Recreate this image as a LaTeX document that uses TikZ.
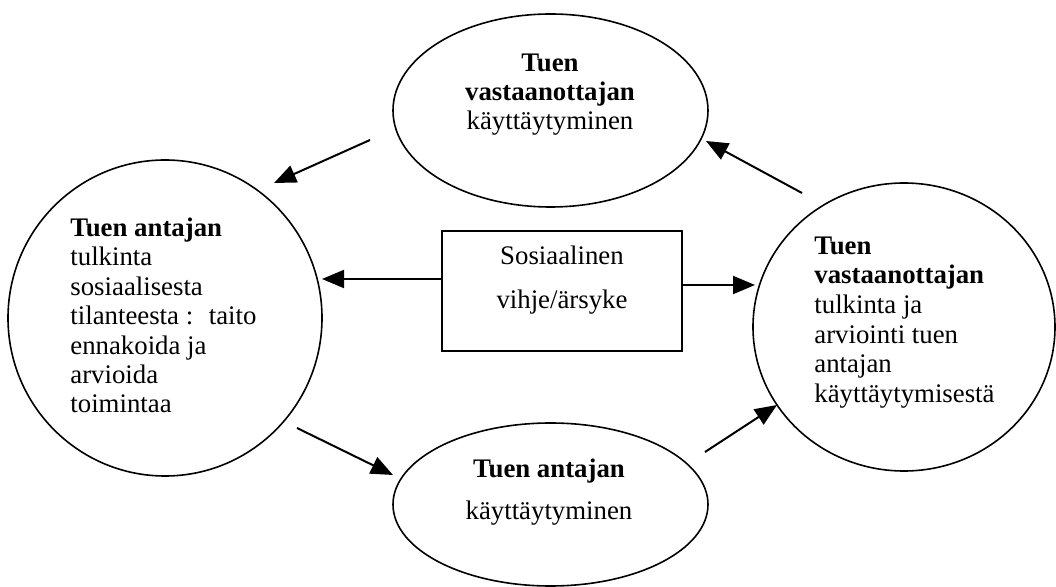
\documentclass[tikz,border=0pt]{standalone}
\usepackage{fontspec}
\setmainfont{Liberation Serif}
\usetikzlibrary{shapes.geometric,arrows.meta}
\begin{document}
\begin{tikzpicture}[x=0.5pt,y=-0.5pt,
  shapeline/.style={draw=black,line width=0.8pt,inner sep=0pt,outer sep=0pt},
  oval/.style={shapeline,ellipse},
  boxshape/.style={shapeline,rectangle},
  arr/.style={line width=1pt,-{Triangle[length=11pt,width=9pt]}},
  txt/.style={inner sep=0pt,font=\fontsize{13.4}{15}\selectfont},
  lt/.style={txt,anchor=base west},
  ct/.style={txt,anchor=base}]
\useasboundingbox (0,0) rectangle (1056,587);
% shapes
\node[oval,minimum width=157.5pt,minimum height=96.5pt] (top) at (550.5,110.5) {};
\node[oval,minimum width=157pt,minimum height=158pt] (left) at (165,318) {};
\node[oval,minimum width=151pt,minimum height=144pt] (right) at (904,327) {};
\node[oval,minimum width=157.5pt,minimum height=81.5pt] (bottom) at (550.5,504.5) {};
\node[boxshape,minimum width=120pt,minimum height=60pt] (box) at (562,291) {};
% top text
\node[ct] (t1) at (550,72) {\textbf{Tuen}};
\node[ct] (t2) at (550,100.5) {\textbf{vastaanottajan}};
\node[ct] (t3) at (550,129.5) {käyttäytyminen};
% left text
\node[lt] (l1) at (70,236.5) {\textbf{Tuen antajan}};
\node[lt] (l2) at (70,266) {tulkinta};
\node[lt] (l3) at (70,295.5) {sosiaalisesta};
\node[lt] (l4) at (70,325) {tilanteesta : \ taito};
\node[lt] (l5) at (70,354.5) {ennakoida ja};
\node[lt] (l6) at (70,384) {arvioida};
\node[lt] (l7) at (70,413) {toimintaa};
% right text
\node[lt] (r1) at (814,254.5) {\textbf{Tuen}};
\node[lt] (r2) at (814,284) {\textbf{vastaanottajan}};
\node[lt] (r3) at (814,313.5) {tulkinta ja};
\node[lt] (r4) at (814,343.5) {arviointi tuen};
\node[lt] (r5) at (814,373) {antajan};
\node[lt] (r6) at (814,402.5) {käyttäytymisestä};
% bottom text
\node[ct] (b1) at (549,478) {\textbf{Tuen antajan}};
\node[ct] (b2) at (549,520) {käyttäytyminen};
% box text
\node[ct] (x1) at (562,265) {Sosiaalinen};
\node[ct] (x2) at (562,309) {vihje/ärsyke};
% arrow ends
\coordinate (a1s) at (370,140); \coordinate (a1e) at (274,183);
\coordinate (a2s) at (802,193); \coordinate (a2e) at (706,141);
\coordinate (a3s) at (297,428); \coordinate (a3e) at (393,475);
\coordinate (a4s) at (705,452); \coordinate (a4e) at (777,405);
\coordinate (a5e) at (322,279);
\coordinate (a6e) at (755,285);
\draw[arr] (a1s) -- (a1e);
\draw[arr] (a2s) -- (a2e);
\draw[arr] (a3s) -- (a3e);
\draw[arr] (a4s) -- (a4e);
\draw[arr] (box.west |- a5e) -- (a5e);
\draw[arr] (box.east |- a6e) -- (a6e);
\end{tikzpicture}
\end{document}
